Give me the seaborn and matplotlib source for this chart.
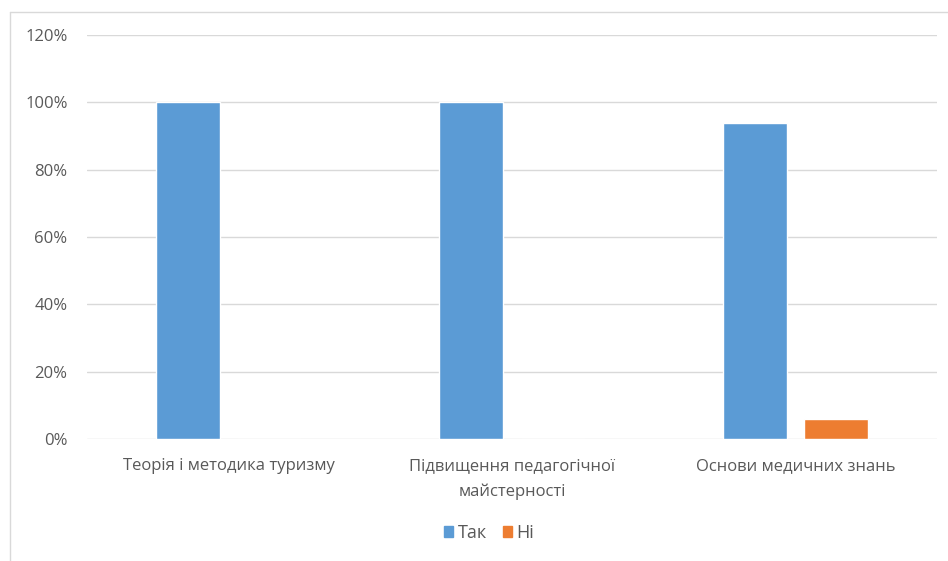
import pandas as pd
import seaborn as sns
import matplotlib.pyplot as plt
from matplotlib.lines import Line2D

categories = ["Теорія і методика туризму",
              "Підвищення педагогічної\nмайстерності",
              "Основи медичних знань"]
series = ["Так", "Ні"]
tak = [100, 100, 94]
ni = [0, 0, 6]
yticks = [0, 20, 40, 60, 80, 100, 120]

df = pd.DataFrame({
    "cat": categories * 2,
    "answer": ["Так"] * 3 + ["Ні"] * 3,
    "value": tak + ni,
})

sns.set_theme(style="white")
plt.rcParams['font.family'] = ['Open Sans', 'DejaVu Sans']
txt = "#595959"

fig = plt.figure(figsize=(9.48, 5.61), dpi=100)
ax = fig.add_axes([87 / 948, 1 - 439 / 561, (937 - 87) / 948, (439 - 35) / 561])

pal = {"Так": "#5b9bd5", "Ні": "#ed7d31"}
sns.barplot(data=df, x="cat", y="value", hue="answer", hue_order=series,
            order=categories, palette=pal, width=0.572, gap=0.21,
            saturation=1, legend=False, ax=ax, zorder=3)

ax.set_ylim(0, 120)
ax.set_xlim(-0.5, 2.5)
ax.set_yticks(yticks)
ax.set_yticklabels([f"{v}%" for v in yticks])
ax.yaxis.grid(True, color="#d9d9d9", linewidth=1, zorder=0)
ax.set_axisbelow(True)
for s in ax.spines.values():
    s.set_visible(False)
ax.tick_params(axis="both", length=0, colors=txt, labelsize=12)
ax.tick_params(axis="y", pad=14)
ax.tick_params(axis="x", pad=14)
for lab in ax.get_xticklabels():
    lab.set_linespacing(1.7)
ax.set_xlabel("")
ax.set_ylabel("")

# light frame of the chart area
fig.add_artist(Line2D([10 / 948, 10 / 948], [0, 1 - 12 / 561],
                      transform=fig.transFigure, color="#d9d9d9", lw=1))
fig.add_artist(Line2D([10 / 948, 1], [1 - 12 / 561, 1 - 12 / 561],
                      transform=fig.transFigure, color="#d9d9d9", lw=1))

handles = [plt.Rectangle((0, 0), 1, 1, color=pal[s]) for s in series]
fig.legend(handles, series, loc="center", bbox_to_anchor=(489 / 948, 1 - 533 / 561),
           ncol=2, frameon=False, handlelength=0.5, handleheight=0.5,
           handletextpad=0.25, columnspacing=0.9, fontsize=13, labelcolor=txt)

fig.savefig("out.png", dpi=100)
